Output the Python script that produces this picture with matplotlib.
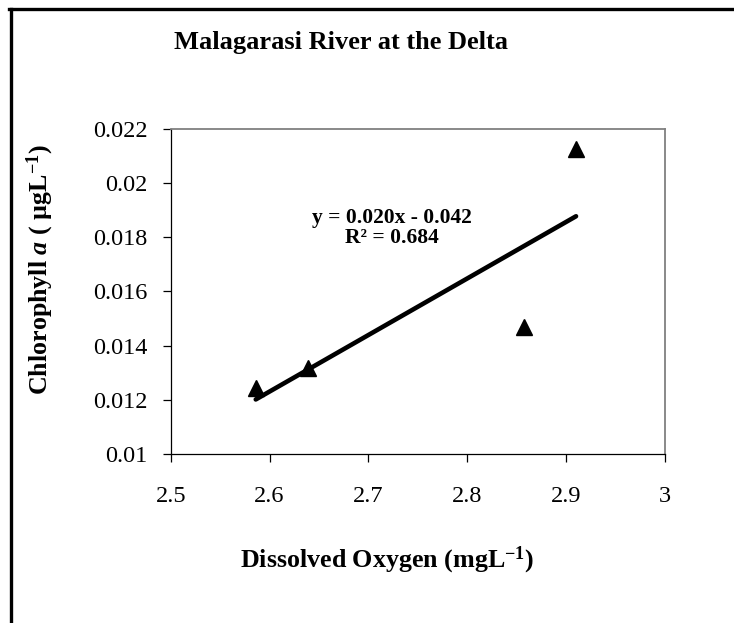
import matplotlib
matplotlib.use("Agg")
import matplotlib.pyplot as plt
from matplotlib.lines import Line2D
import numpy as np

# data
dissolved_oxygen = [2.586, 2.639, 2.857, 2.910]
chlorophyll_a = [0.01244, 0.01319, 0.01470, 0.02125]
x_ticks = [2.5, 2.6, 2.7, 2.8, 2.9, 3.0]
x_tick_labels = ["2.5", "2.6", "2.7", "2.8", "2.9", "3"]
y_ticks = [0.010, 0.012, 0.014, 0.016, 0.018, 0.020, 0.022]
y_tick_labels = ["0.01", "0.012", "0.014", "0.016", "0.018", "0.02", "0.022"]
equation_text = "y = 0.020x - 0.042\nR² = 0.684"

plt.rcParams['font.family'] = ['Liberation Serif', 'DejaVu Serif']
plt.rcParams['mathtext.fontset'] = 'custom'
plt.rcParams['mathtext.rm'] = 'Liberation Serif'
plt.rcParams['mathtext.it'] = 'Liberation Serif:italic'
plt.rcParams['mathtext.bf'] = 'Liberation Serif:bold'
plt.rcParams['mathtext.bfit'] = 'Liberation Serif:bold:italic'

fig = plt.figure(figsize=(7.34, 6.23), dpi=100)
ax = fig.add_axes([0.2326, 0.2713, 0.6734, 0.5217])

ax.plot(dissolved_oxygen, chlorophyll_a, linestyle='none', marker='^',
        markersize=11, color='black', zorder=3)

# linear trend line across the data range
slope, intercept = np.polyfit(dissolved_oxygen, chlorophyll_a, 1)
x_fit = np.array([min(dissolved_oxygen), max(dissolved_oxygen)])
ax.plot(x_fit, slope * x_fit + intercept, color='black', linewidth=3.3,
        solid_capstyle='round', zorder=2)

ax.text(2.7236, 0.01833, equation_text, ha='center', va='center',
        fontsize=15.5, fontweight='bold', linespacing=1.0)

ax.set_xlim(2.5, 3.0)
ax.set_ylim(0.01, 0.022)
ax.set_xticks(x_ticks)
ax.set_xticklabels(x_tick_labels)
ax.set_yticks(y_ticks)
ax.set_yticklabels(y_tick_labels)
ax.tick_params(axis='both', direction='out', labelsize=17.5, width=0.9)
ax.tick_params(axis='y', length=5.8, pad=11)
ax.tick_params(axis='x', length=5.8, pad=17)

for side in ['left', 'bottom']:
    ax.spines[side].set_color('black')
    ax.spines[side].set_linewidth(0.9)
for side in ['top', 'right']:
    ax.spines[side].set_color('#808080')
    ax.spines[side].set_linewidth(1.3)

fig.text(341 / 734, 1 - 43 / 623, "Malagarasi River at the Delta",
         ha='center', va='center', fontsize=19, fontweight='bold')
fig.text(387 / 734, 1 - 560 / 623, r"Dissolved Oxygen (mgL$^{\mathbf{-1}}$)",
         ha='center', va='center', fontsize=18.7, fontweight='bold')
fig.text(40 / 734, 1 - 270 / 623, r"Chlorophyll $\mathbfit{a}$ ( µgL$^{\mathbf{-1}}$)",
         ha='center', va='center', rotation=90, fontsize=18.7, fontweight='bold')

# outer frame (left and top edges only)
fig.add_artist(Line2D([10.5 / 734, 10.5 / 734], [0, 1 - 9 / 623],
                      transform=fig.transFigure, color='black', linewidth=2.4))
fig.add_artist(Line2D([9 / 734, 1], [1 - 9 / 623, 1 - 9 / 623],
                      transform=fig.transFigure, color='black', linewidth=2.4))

fig.savefig("out.png", dpi=100)
